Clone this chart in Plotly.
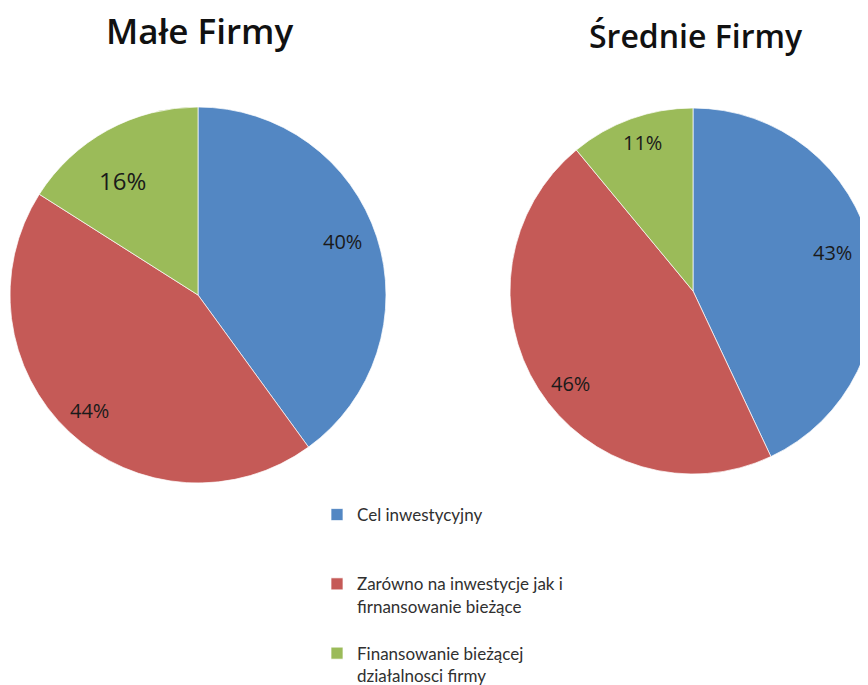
import math
import plotly.graph_objects as go

W, H = 868, 685

# ---- data ----
labels = ["Cel inwestycyjny",
          "Zarówno na inwestycje jak i<br>firnansowanie bieżące",
          "Finansowanie bieżącej<br>działalnosci firmy"]
titles = ["Małe Firmy", "Średnie Firmy"]
small_firms = [40, 44, 16]
medium_firms = [43, 46, 11]

# ---- style ----
colors = ["#5387C3", "#C55A57", "#9BBB59"]
legend_pad = ["<br> <br> ", "<br> ", ""]
# pie geometry in pixels: (cx, cy, R)
geom = [(190, 287, 188), (685, 283, 183)]
label_rfrac = [[0.82, 0.84, 0.73], [0.79, 0.84, 0.86]]
label_dang = [[-2.5, 0, -4.5], [-3, -4.5, 1]]
label_size = [[20, 20, 24], [20, 20, 20]]
title_pos = [(191, 23), (688, 27)]
title_size = [35, 32]

fig = go.Figure()
series = [small_firms, medium_firms]
for i, vals in enumerate(series):
    cx, cy, R = geom[i]
    fig.add_trace(go.Pie(
        labels=[l + p for l, p in zip(labels, legend_pad)],
        values=vals,
        sort=False,
        direction="clockwise",
        rotation=0,
        textinfo="none",
        hoverinfo="label+percent",
        marker=dict(colors=colors, line=dict(color="rgba(255,255,255,0.7)", width=1)),
        domain=dict(x=[max(0, (cx - R) / W), min(1, (cx + R) / W)],
                    y=[1 - (cy + R) / H, 1 - (cy - R) / H]),
        showlegend=(i == 0),
    ))
    # percentage labels placed at slice mid-angles
    total = sum(vals)
    cum = 0
    for j, v in enumerate(vals):
        mid = (cum + v / 2) / total * 2 * math.pi + math.radians(label_dang[i][j])
        cum += v
        rr = label_rfrac[i][j] * R
        px = cx + rr * math.sin(mid)
        py = cy - rr * math.cos(mid)
        fig.add_annotation(
            x=px / W, y=1 - py / H, xref="paper", yref="paper",
            text=f"{round(v / total * 100)}%", showarrow=False,
            xanchor="center", yanchor="middle",
            font=dict(family="Open Sans", size=label_size[i][j], color="#1a1a1a"),
        )
    tx, ty = title_pos[i]
    fig.add_annotation(
        x=tx / W, y=1 - ty / H, xref="paper", yref="paper",
        text=titles[i], showarrow=False, xanchor="center", yanchor="middle",
        font=dict(family="Open Sans", size=title_size[i], color="#111111", weight=600),
    )

fig.update_layout(
    width=W, height=H,
    margin=dict(l=0, r=0, t=0, b=0),
    paper_bgcolor="white",
    plot_bgcolor="white",
    showlegend=True,
    legend=dict(
        x=309 / W, y=0, xanchor="left", yanchor="bottom",
        valign="top",
        font=dict(family="Lato", size=17, color="#303030"),
        bgcolor="rgba(0,0,0,0)",
        traceorder="normal",
    ),
)

fig.write_html("out.html")
